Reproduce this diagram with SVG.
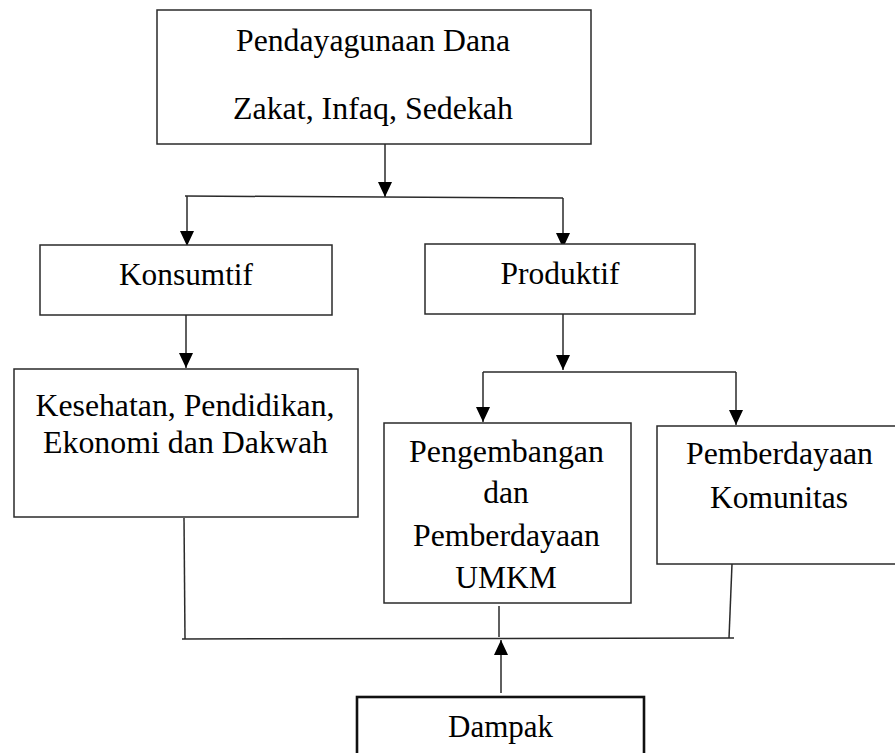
<svg xmlns="http://www.w3.org/2000/svg" width="895" height="753" viewBox="0 0 895 753">
<style>
.box{fill:#fff;stroke:#2a2a2a;stroke-width:1.5}
.thick{fill:#fff;stroke:#111;stroke-width:2.6}
.t{font-family:"Liberation Serif","Times New Roman",serif;font-size:31.5px;fill:#000;text-anchor:middle}
.c{fill:none;stroke:#2a2a2a;stroke-width:1.5}
</style>
<defs>
<marker id="ah" viewBox="0 0 15 14" refX="15" refY="7" markerWidth="15" markerHeight="14" markerUnits="userSpaceOnUse" orient="auto">
<path d="M0,0 L15,7 L0,14 z" fill="#000"/>
</marker>
</defs>
<rect width="895" height="753" fill="#fff"/>
<g id="connectors">
<path class="c" d="M385,144 L385,197" marker-end="url(#ah)"/>
<path class="c" d="M185,196 L563,198"/>
<path class="c" d="M187,196 L187,246" marker-end="url(#ah)"/>
<path class="c" d="M563,198 L563,248" marker-end="url(#ah)"/>
<path class="c" d="M186,315 L186,368" marker-end="url(#ah)"/>
<path class="c" d="M563,314 L563,370" marker-end="url(#ah)"/>
<path class="c" d="M483,372 L736,372"/>
<path class="c" d="M483,372 L483,422" marker-end="url(#ah)"/>
<path class="c" d="M736,372 L736,425" marker-end="url(#ah)"/>
<path class="c" d="M184,518 L185,639"/>
<path class="c" d="M499,606 L499,637"/>
<path class="c" d="M732,564 L729,638"/>
<path class="c" d="M182,639 L734,638"/>
<path class="c" d="M501,693 L501,640" marker-end="url(#ah)"/>
</g>
<g id="node-top">
<rect class="box" x="157" y="10" width="434" height="134"/>
<text class="t" x="373" y="51" textLength="274" lengthAdjust="spacingAndGlyphs">Pendayagunaan Dana</text>
<text class="t" x="373" y="119" textLength="280" lengthAdjust="spacingAndGlyphs">Zakat, Infaq, Sedekah</text>
</g>
<g id="node-konsumtif">
<rect class="box" x="40" y="245" width="292" height="70"/>
<text class="t" x="186" y="284.5" textLength="134" lengthAdjust="spacingAndGlyphs">Konsumtif</text>
</g>
<g id="node-produktif">
<rect class="box" x="425" y="244" width="270" height="70"/>
<text class="t" x="560" y="284" textLength="119" lengthAdjust="spacingAndGlyphs">Produktif</text>
</g>
<g id="node-kesehatan">
<rect class="box" x="14" y="369" width="344" height="148"/>
<text class="t" x="185" y="416" textLength="299" lengthAdjust="spacingAndGlyphs">Kesehatan, Pendidikan,</text>
<text class="t" x="185.5" y="453" textLength="285" lengthAdjust="spacingAndGlyphs">Ekonomi dan Dakwah</text>
</g>
<g id="node-umkm">
<rect class="box" x="384" y="423" width="247" height="180"/>
<text class="t" x="506.5" y="462" textLength="195" lengthAdjust="spacingAndGlyphs">Pengembangan</text>
<text class="t" x="506" y="503">dan</text>
<text class="t" x="506.5" y="546" textLength="187" lengthAdjust="spacingAndGlyphs">Pemberdayaan</text>
<text class="t" x="506" y="588">UMKM</text>
</g>
<g id="node-komunitas">
<rect class="box" x="657" y="426" width="250" height="138"/>
<text class="t" x="779.5" y="464" textLength="187" lengthAdjust="spacingAndGlyphs">Pemberdayaan</text>
<text class="t" x="779" y="508" textLength="138" lengthAdjust="spacingAndGlyphs">Komunitas</text>
</g>
<g id="node-dampak">
<rect class="thick" x="357" y="697" width="287" height="70"/>
<text class="t" x="500.5" y="737" textLength="105" lengthAdjust="spacingAndGlyphs">Dampak</text>
</g>
</svg>
